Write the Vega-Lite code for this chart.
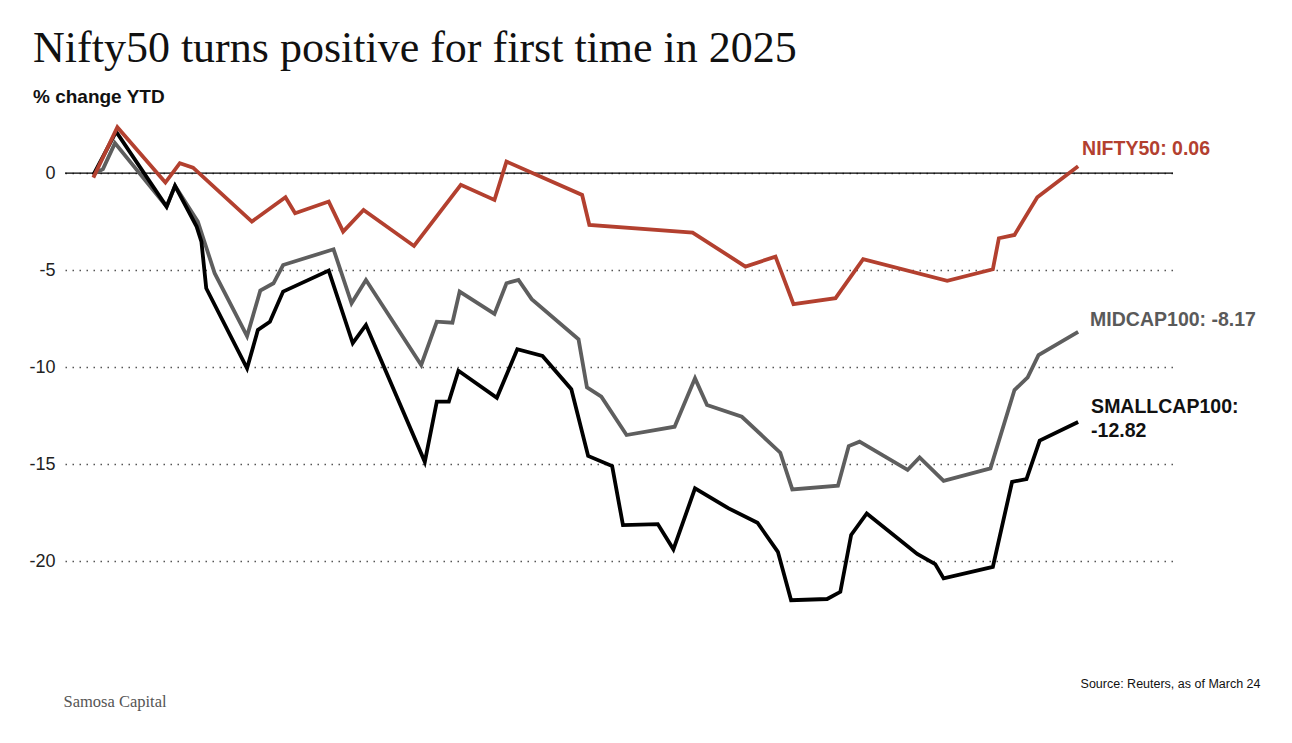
{
  "$schema": "https://vega.github.io/schema/vega-lite/v6.json",
  "width": 1108,
  "height": 524,
  "autosize": {"type": "none"},
  "padding": {"left": 65, "top": 115, "right": 119, "bottom": 104},
  "background": "white",
  "title": {
    "text": "Nifty50 turns positive for first time in 2025",
    "subtitle": "% change YTD",
    "anchor": "start",
    "frame": "group",
    "dx": -32,
    "offset": 8,
    "font": "Liberation Serif",
    "fontSize": 44,
    "fontWeight": "normal",
    "color": "#111111",
    "subtitleFont": "Liberation Sans",
    "subtitleFontSize": 19,
    "subtitleFontWeight": "bold",
    "subtitleColor": "#111111",
    "subtitlePadding": 17
  },
  "config": {
    "view": {"stroke": null}
  },
  "datasets": {
    "series": [
      {"s": "MIDCAP100", "t": 0, "v": -0.04},
      {"s": "MIDCAP100", "t": 0.8, "v": 0.21},
      {"s": "MIDCAP100", "t": 1.8, "v": 1.55},
      {"s": "MIDCAP100", "t": 6.1, "v": -1.72},
      {"s": "MIDCAP100", "t": 6.8, "v": -0.65},
      {"s": "MIDCAP100", "t": 8.7, "v": -2.49},
      {"s": "MIDCAP100", "t": 10.1, "v": -5.15},
      {"s": "MIDCAP100", "t": 12.8, "v": -8.39},
      {"s": "MIDCAP100", "t": 13.9, "v": -6.05},
      {"s": "MIDCAP100", "t": 15.0, "v": -5.67},
      {"s": "MIDCAP100", "t": 15.8, "v": -4.73},
      {"s": "MIDCAP100", "t": 20.0, "v": -3.92},
      {"s": "MIDCAP100", "t": 21.5, "v": -6.70},
      {"s": "MIDCAP100", "t": 22.7, "v": -5.50},
      {"s": "MIDCAP100", "t": 27.3, "v": -9.88},
      {"s": "MIDCAP100", "t": 28.6, "v": -7.65},
      {"s": "MIDCAP100", "t": 29.9, "v": -7.70},
      {"s": "MIDCAP100", "t": 30.5, "v": -6.10},
      {"s": "MIDCAP100", "t": 33.4, "v": -7.25},
      {"s": "MIDCAP100", "t": 34.4, "v": -5.67},
      {"s": "MIDCAP100", "t": 35.4, "v": -5.50},
      {"s": "MIDCAP100", "t": 36.5, "v": -6.49},
      {"s": "MIDCAP100", "t": 40.4, "v": -8.56},
      {"s": "MIDCAP100", "t": 41.1, "v": -11.03},
      {"s": "MIDCAP100", "t": 42.3, "v": -11.51},
      {"s": "MIDCAP100", "t": 44.4, "v": -13.49},
      {"s": "MIDCAP100", "t": 48.4, "v": -13.06},
      {"s": "MIDCAP100", "t": 50.1, "v": -10.57},
      {"s": "MIDCAP100", "t": 51.1, "v": -11.94},
      {"s": "MIDCAP100", "t": 54.0, "v": -12.55},
      {"s": "MIDCAP100", "t": 57.2, "v": -14.40},
      {"s": "MIDCAP100", "t": 58.2, "v": -16.29},
      {"s": "MIDCAP100", "t": 62.0, "v": -16.10},
      {"s": "MIDCAP100", "t": 62.9, "v": -14.06},
      {"s": "MIDCAP100", "t": 63.8, "v": -13.83},
      {"s": "MIDCAP100", "t": 67.8, "v": -15.29},
      {"s": "MIDCAP100", "t": 68.8, "v": -14.64},
      {"s": "MIDCAP100", "t": 70.8, "v": -15.85},
      {"s": "MIDCAP100", "t": 74.7, "v": -15.21},
      {"s": "MIDCAP100", "t": 76.7, "v": -11.17},
      {"s": "MIDCAP100", "t": 77.8, "v": -10.52},
      {"s": "MIDCAP100", "t": 78.7, "v": -9.37},
      {"s": "MIDCAP100", "t": 82.0, "v": -8.17},
      {"s": "SMALLCAP100", "t": 0, "v": -0.09},
      {"s": "SMALLCAP100", "t": 1.9, "v": 2.14},
      {"s": "SMALLCAP100", "t": 6.1, "v": -1.72},
      {"s": "SMALLCAP100", "t": 6.8, "v": -0.65},
      {"s": "SMALLCAP100", "t": 8.6, "v": -2.75},
      {"s": "SMALLCAP100", "t": 9.0, "v": -3.53},
      {"s": "SMALLCAP100", "t": 9.4, "v": -5.93},
      {"s": "SMALLCAP100", "t": 12.8, "v": -10.05},
      {"s": "SMALLCAP100", "t": 13.7, "v": -8.08},
      {"s": "SMALLCAP100", "t": 14.7, "v": -7.65},
      {"s": "SMALLCAP100", "t": 15.8, "v": -6.10},
      {"s": "SMALLCAP100", "t": 19.6, "v": -5.02},
      {"s": "SMALLCAP100", "t": 21.6, "v": -8.76},
      {"s": "SMALLCAP100", "t": 22.7, "v": -7.82},
      {"s": "SMALLCAP100", "t": 27.6, "v": -14.87},
      {"s": "SMALLCAP100", "t": 28.6, "v": -11.77},
      {"s": "SMALLCAP100", "t": 29.6, "v": -11.77},
      {"s": "SMALLCAP100", "t": 30.4, "v": -10.18},
      {"s": "SMALLCAP100", "t": 33.6, "v": -11.57},
      {"s": "SMALLCAP100", "t": 35.3, "v": -9.07},
      {"s": "SMALLCAP100", "t": 37.4, "v": -9.42},
      {"s": "SMALLCAP100", "t": 39.8, "v": -11.13},
      {"s": "SMALLCAP100", "t": 41.2, "v": -14.57},
      {"s": "SMALLCAP100", "t": 43.2, "v": -15.09},
      {"s": "SMALLCAP100", "t": 44.1, "v": -18.13},
      {"s": "SMALLCAP100", "t": 47.0, "v": -18.08},
      {"s": "SMALLCAP100", "t": 48.3, "v": -19.38},
      {"s": "SMALLCAP100", "t": 50.1, "v": -16.24},
      {"s": "SMALLCAP100", "t": 52.9, "v": -17.27},
      {"s": "SMALLCAP100", "t": 55.3, "v": -18.01},
      {"s": "SMALLCAP100", "t": 57.0, "v": -19.51},
      {"s": "SMALLCAP100", "t": 58.1, "v": -22.00},
      {"s": "SMALLCAP100", "t": 61.1, "v": -21.94},
      {"s": "SMALLCAP100", "t": 62.2, "v": -21.57},
      {"s": "SMALLCAP100", "t": 63.1, "v": -18.64},
      {"s": "SMALLCAP100", "t": 64.4, "v": -17.53},
      {"s": "SMALLCAP100", "t": 68.6, "v": -19.62},
      {"s": "SMALLCAP100", "t": 70.1, "v": -20.14},
      {"s": "SMALLCAP100", "t": 70.8, "v": -20.88},
      {"s": "SMALLCAP100", "t": 74.9, "v": -20.28},
      {"s": "SMALLCAP100", "t": 76.5, "v": -15.90},
      {"s": "SMALLCAP100", "t": 77.7, "v": -15.76},
      {"s": "SMALLCAP100", "t": 78.8, "v": -13.78},
      {"s": "SMALLCAP100", "t": 82.0, "v": -12.82},
      {"s": "NIFTY50", "t": 0, "v": -0.23},
      {"s": "NIFTY50", "t": 2.0, "v": 2.37},
      {"s": "NIFTY50", "t": 6.0, "v": -0.48},
      {"s": "NIFTY50", "t": 7.2, "v": 0.52},
      {"s": "NIFTY50", "t": 8.3, "v": 0.29},
      {"s": "NIFTY50", "t": 13.2, "v": -2.49},
      {"s": "NIFTY50", "t": 16.0, "v": -1.24},
      {"s": "NIFTY50", "t": 16.8, "v": -2.06},
      {"s": "NIFTY50", "t": 19.6, "v": -1.46},
      {"s": "NIFTY50", "t": 20.8, "v": -3.01},
      {"s": "NIFTY50", "t": 22.5, "v": -1.89},
      {"s": "NIFTY50", "t": 26.7, "v": -3.75},
      {"s": "NIFTY50", "t": 30.6, "v": -0.60},
      {"s": "NIFTY50", "t": 33.4, "v": -1.38},
      {"s": "NIFTY50", "t": 34.4, "v": 0.60},
      {"s": "NIFTY50", "t": 40.7, "v": -1.12},
      {"s": "NIFTY50", "t": 41.3, "v": -2.66},
      {"s": "NIFTY50", "t": 49.9, "v": -3.06},
      {"s": "NIFTY50", "t": 54.3, "v": -4.81},
      {"s": "NIFTY50", "t": 56.8, "v": -4.30},
      {"s": "NIFTY50", "t": 58.3, "v": -6.75},
      {"s": "NIFTY50", "t": 61.8, "v": -6.44},
      {"s": "NIFTY50", "t": 64.1, "v": -4.43},
      {"s": "NIFTY50", "t": 71.1, "v": -5.54},
      {"s": "NIFTY50", "t": 74.9, "v": -4.95},
      {"s": "NIFTY50", "t": 75.4, "v": -3.35},
      {"s": "NIFTY50", "t": 76.7, "v": -3.18},
      {"s": "NIFTY50", "t": 78.6, "v": -1.24},
      {"s": "NIFTY50", "t": 82.0, "v": 0.36}
    ],
    "labels": [
      {"s": "NIFTY50", "t": 82.0, "v": 0.36, "label": "NIFTY50: 0.06"},
      {"s": "MIDCAP100", "t": 82.0, "v": -8.17, "label": "MIDCAP100: -8.17"},
      {"s": "SMALLCAP100", "t": 82.0, "v": -12.82, "label": "SMALLCAP100:"},
      {"s": "SMALLCAP100", "t": 82.0, "v": -12.82, "label": "-12.82"}
    ],
    "zero": [{"v": 0}]
  },
  "encoding": {
    "x": {
      "field": "t",
      "type": "quantitative",
      "scale": {"domain": [-2.36, 89.9], "nice": false, "zero": false},
      "axis": {
        "title": "Source: Reuters, as of March 24",
        "labels": false,
        "ticks": false,
        "domain": false,
        "grid": false,
        "titleFont": "Liberation Sans",
        "titleFontSize": 12.5,
        "titleFontWeight": "normal",
        "titleColor": "#111111",
        "titleAnchor": null,
        "titleAlign": "right",
        "titleBaseline": "alphabetic",
        "titleX": 1195,
        "titleY": 48
      }
    },
    "y": {
      "field": "v",
      "type": "quantitative",
      "scale": {"domain": [-24, 3], "nice": false, "zero": false},
      "axis": {
        "values": [-20, -15, -10, -5, 0],
        "labelExpr": "datum.value == 0 ? '0' : '-' + abs(datum.value)",
        "labelFont": "Liberation Sans",
        "labelFontSize": 18,
        "labelColor": "#222222",
        "labelPadding": 10,
        "ticks": false,
        "domain": false,
        "grid": true,
        "gridColor": "#555555",
        "gridDash": [1.5, 5.5],
        "gridWidth": 1.5,
        "gridOpacity": 1,
        "title": "Samosa Capital",
        "titleAngle": 0,
        "titleFont": "Liberation Serif",
        "titleFontSize": 16.5,
        "titleFontWeight": "normal",
        "titleColor": "#555555",
        "titleAnchor": null,
        "titleAlign": "left",
        "titleBaseline": "alphabetic",
        "titleX": -2,
        "titleY": 591
      }
    }
  },
  "layer": [
    {
      "data": {"name": "zero"},
      "mark": {"type": "rule", "color": "#000000", "strokeWidth": 1.3},
      "encoding": {"y": {"field": "v", "type": "quantitative"}, "x": null}
    },
    {
      "data": {"name": "series"},
      "mark": {"type": "line", "strokeWidth": 3.8, "strokeJoin": "miter", "strokeCap": "butt"},
      "encoding": {
        "color": {
          "field": "s",
          "type": "nominal",
          "scale": {"domain": ["MIDCAP100", "SMALLCAP100", "NIFTY50"], "range": ["#5e5e5e", "#000000", "#b3402f"]},
          "legend": null
        },
        "order": {"field": "t", "type": "quantitative"}
      }
    },
    {
      "data": {"name": "labels"},
      "transform": [{"filter": "datum.label == 'NIFTY50: 0.06'"}],
      "mark": {"type": "text", "align": "left", "baseline": "alphabetic", "dx": 4, "dy": -11, "font": "Liberation Sans", "fontSize": 19.5, "fontWeight": "bold", "color": "#b3402f"},
      "encoding": {"text": {"field": "label"}}
    },
    {
      "data": {"name": "labels"},
      "transform": [{"filter": "datum.label == 'MIDCAP100: -8.17'"}],
      "mark": {"type": "text", "align": "left", "baseline": "alphabetic", "dx": 12, "dy": -6, "font": "Liberation Sans", "fontSize": 19.5, "fontWeight": "bold", "color": "#5a5a5a"},
      "encoding": {"text": {"field": "label"}}
    },
    {
      "data": {"name": "labels"},
      "transform": [{"filter": "datum.label == 'SMALLCAP100:'"}],
      "mark": {"type": "text", "align": "left", "baseline": "alphabetic", "dx": 13, "dy": -9, "font": "Liberation Sans", "fontSize": 19.5, "fontWeight": "bold", "color": "#111111"},
      "encoding": {"text": {"field": "label"}}
    },
    {
      "data": {"name": "labels"},
      "transform": [{"filter": "datum.label == '-12.82'"}],
      "mark": {"type": "text", "align": "left", "baseline": "alphabetic", "dx": 13, "dy": 15.3, "font": "Liberation Sans", "fontSize": 19.5, "fontWeight": "bold", "color": "#111111"},
      "encoding": {"text": {"field": "label"}}
    }
  ]
}
